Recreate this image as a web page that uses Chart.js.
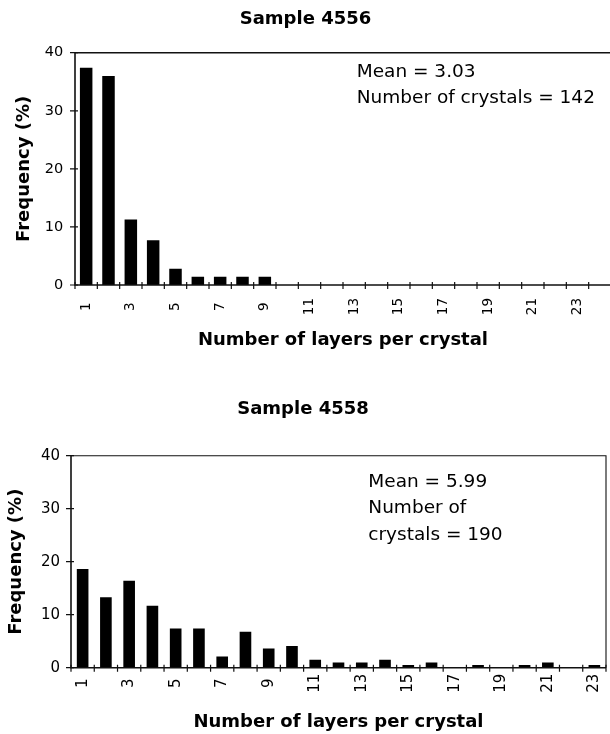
<!DOCTYPE html>
<html>
<head>
<meta charset="utf-8">
<script src="https://cdn.jsdelivr.net/npm/chart.js@4.4.0/dist/chart.umd.min.js"></script>
<style>
  html, body { margin: 0; padding: 0; background: #fff; overflow: hidden; width: 610px; height: 734px; }
  canvas { position: absolute; left: 0; }
  #sampleA { top: 0; }
  #sampleB { top: 367px; }
</style>
</head>
<body>
<canvas id="sampleA" width="614" height="367"></canvas>
<canvas id="sampleB" width="610" height="367"></canvas>
<script>
// Layer-count histograms for two samples (frequency in %)
const layersA = ['1','2','3','4','5','6','7','8','9','10','11','12','13','14','15','16','17','18','19','20','21','22','23','24'];
const freqA   = [37.4, 36.0, 11.3, 7.7, 2.8, 1.4, 1.4, 1.4, 1.4, 0, 0, 0, 0, 0, 0, 0, 0, 0, 0, 0, 0, 0, 0, 0];
const notesA  = ['Mean = 3.03', 'Number of crystals = 142'];

const layersB = ['1','2','3','4','5','6','7','8','9','10','11','12','13','14','15','16','17','18','19','20','21','22','23'];
const freqB   = [18.6, 13.3, 16.4, 11.7, 7.4, 7.4, 2.1, 6.8, 3.6, 4.1, 1.5, 1.0, 1.0, 1.5, 0.5, 1.0, 0, 0.5, 0, 0.5, 1.0, 0, 0.5];
const notesB  = ['Mean = 5.99', 'Number of', 'crystals = 190'];

const freqTicks = [0, 10, 20, 30, 40];
const xTitle = 'Number of layers per crystal';
const yTitle = 'Frequency (%)';

Chart.defaults.font.family = "'DejaVu Sans', sans-serif";
Chart.defaults.color = '#000';

// Plot frame plus short cross ticks on both axes
const framePlugin = {
  id: 'frame',
  afterDatasetsDraw(chart, args, opts) {
    const { ctx, chartArea: a, scales: { x, y } } = chart;
    ctx.save();
    ctx.strokeStyle = '#111';
    ctx.lineCap = 'butt';
    ctx.lineWidth = opts.edgeWidth;
    ctx.beginPath();
    ctx.moveTo(a.left, a.top);
    ctx.lineTo(a.right, a.top);
    ctx.lineTo(a.right, a.bottom);
    ctx.stroke();
    ctx.lineWidth = opts.axisWidth;
    ctx.beginPath();
    ctx.moveTo(a.left, a.top);
    ctx.lineTo(a.left, a.bottom);
    ctx.lineTo(a.right, a.bottom);
    ctx.stroke();
    ctx.lineWidth = 1.2;
    ctx.beginPath();
    y.ticks.forEach((t, i) => {
      const py = y.getPixelForTick(i);
      ctx.moveTo(a.left - 5, py);
      ctx.lineTo(a.left + 3, py);
    });
    for (let i = 0; i <= x.ticks.length; i++) {
      const px = x.getPixelForValue(i - 0.5);
      ctx.moveTo(px, a.bottom - 3);
      ctx.lineTo(px, a.bottom + 4);
    }
    ctx.stroke();
    ctx.restore();
  }
};

// Summary text block inside the plot
const notesPlugin = {
  id: 'notes',
  afterDraw(chart, args, opts) {
    const { ctx } = chart;
    ctx.save();
    ctx.fillStyle = '#000';
    ctx.font = opts.size + "px 'DejaVu Sans', sans-serif";
    ctx.textAlign = 'left';
    ctx.textBaseline = 'alphabetic';
    opts.lines.forEach((s, i) => ctx.fillText(s, opts.x, opts.y + i * opts.dy));
    ctx.restore();
  }
};

function histogram(id, labels, values, notes, L) {
  return new Chart(document.getElementById(id), {
    type: 'bar',
    data: {
      labels: labels,
      datasets: [{
        data: values,
        backgroundColor: '#000',
        borderWidth: 0,
        categoryPercentage: 1,
        barPercentage: L.barPct
      }]
    },
    options: {
      responsive: false,
      animation: false,
      devicePixelRatio: 1,
      layout: { padding: { left: 0, right: L.padRight, top: 0, bottom: 0 } },
      plugins: {
        legend: { display: false },
        tooltip: { enabled: false },
        title: {
          display: true,
          text: L.title,
          color: '#000',
          font: { size: 18, weight: 'bold' },
          padding: { top: L.titleTop, bottom: L.titleBottom }
        },
        frame: { axisWidth: 1.6, edgeWidth: L.edgeWidth },
        notes: { lines: notes, x: L.noteX, y: L.noteY, dy: L.noteDy, size: 18.5 }
      },
      scales: {
        x: {
          type: 'category',
          offset: true,
          grid: { display: false, drawTicks: false },
          border: { display: false },
          ticks: {
            autoSkip: false,
            minRotation: 90,
            maxRotation: 90,
            padding: L.xTickPad,
            font: { size: L.xTickSize },
            callback: function (v, i) {
              if (i % 2 !== 0) return '';
              const s = this.getLabelForValue(v);
              return s.length === 1 ? s + ' ' : s;
            }
          },
          title: {
            display: true,
            text: xTitle,
            color: '#000',
            font: { size: 18, weight: 'bold' },
            padding: { top: 0, bottom: L.xTitlePad }
          },
          afterFit: s => { s.height = L.xHeight; s.paddingLeft = 0; s.paddingRight = 0; }
        },
        y: {
          min: 0,
          max: 40,
          grid: { display: false, drawTicks: false },
          border: { display: false },
          afterBuildTicks: s => { s.ticks = freqTicks.map(v => ({ value: v })); },
          ticks: { padding: L.yTickPad, font: { size: L.yTickSize } },
          title: {
            display: true,
            text: yTitle,
            color: '#000',
            font: { size: 18, weight: 'bold' },
            padding: { top: L.yTitlePad, bottom: 0 }
          },
          afterFit: s => { s.width = L.yWidth; }
        }
      }
    },
    plugins: [framePlugin, notesPlugin]
  });
}

histogram('sampleA', layersA, freqA, notesA, {
  title: 'Sample 4556', titleTop: 8.5, titleBottom: 22.6, padRight: 3,
  barPct: 0.56, edgeWidth: 1.6, xTickSize: 13.5, yTickSize: 14.5, xTickPad: 13, yTickPad: 11.7,
  xTitlePad: 16.2, xHeight: 82, yTitlePad: 13.2, yWidth: 75,
  noteX: 356.7, noteY: 77.3, noteDy: 25.7
});

histogram('sampleB', layersB, freqB, notesB, {
  title: 'Sample 4558', titleTop: 31.5, titleBottom: 35.6, padRight: 4,
  barPct: 0.5, edgeWidth: 1.1, xTickSize: 15, yTickSize: 15, xTickPad: 6, yTickPad: 11,
  xTitlePad: 1.2, xHeight: 66.3, yTitlePad: 5.2, yWidth: 71,
  noteX: 368.3, noteY: 119.7, noteDy: 26.6
});
</script>
</body>
</html>
